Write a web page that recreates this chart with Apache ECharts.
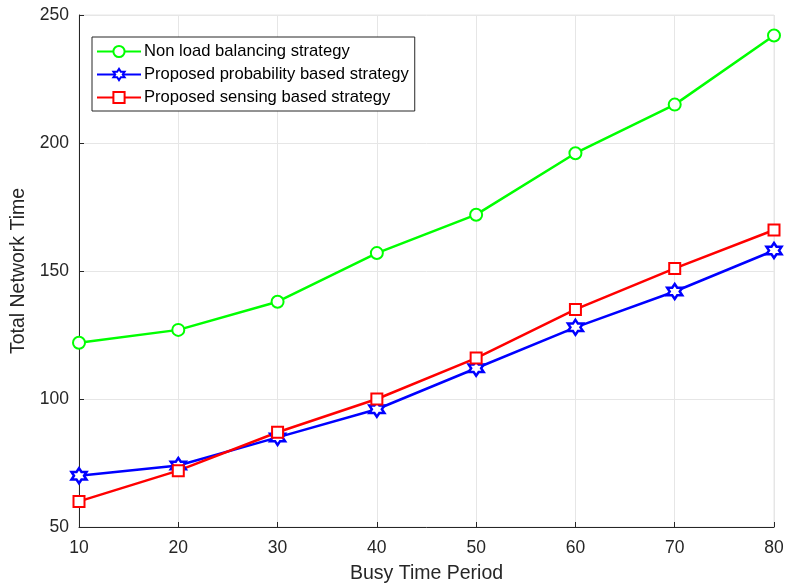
<!DOCTYPE html>
<html>
<head>
<meta charset="utf-8">
<script src="https://cdn.jsdelivr.net/npm/echarts@6/dist/echarts.min.js"></script>
<style>
  html, body { margin: 0; padding: 0; background: #fff; }
  #chart { width: 787px; height: 587px; }
</style>
</head>
<body>
<div id="chart"></div>
<script>
// data
const periods = [10, 20, 30, 40, 50, 60, 70, 80];
const nonBalancing = [122, 127, 138, 157, 172, 196, 215, 242];
const probabilityBased = [70, 74, 85, 96, 112, 128, 142, 158];
const sensingBased = [60, 72, 87, 100, 116, 135, 151, 166];

// six pointed star (matlab 'hexagram')
const hexagram = 'path://M0,-10L2.89,-5L8.66,-5L5.77,0L8.66,5L2.89,5L0,10L-2.89,5L-8.66,5L-5.77,0L-8.66,-5L-2.89,-5Z';

const chart = echarts.init(document.getElementById('chart'));

function makeSeries(name, values, color, symbol, size, border) {
    return {
        name: name,
        type: 'line',
        data: periods.map((p, i) => [p, values[i]]),
        symbol: symbol,
        symbolSize: size,
        showAllSymbol: true,
        lineStyle: { color: color, width: 2.5 },
        itemStyle: { color: '#fff', borderColor: color, borderWidth: border },
        emphasis: { disabled: true },
        z: 3
    };
}

const font = 'Liberation Sans, Arial, sans-serif';
const axisText = { color: '#262626', fontSize: 17.5, fontFamily: font };

chart.setOption({
    backgroundColor: '#ffffff',
    animation: false,
    grid: {
        left: 79, right: 13, top: 15, bottom: 60,
        outerBoundsMode: 'none',
        show: true, borderColor: '#e6e6e6', borderWidth: 1
    },
    legend: {
        orient: 'vertical',
        left: 92,
        top: 37,
        padding: [6, 6, 5, 4],
        itemGap: 6,
        itemWidth: 44,
        itemHeight: 14,
        borderColor: '#262626',
        borderWidth: 1,
        backgroundColor: '#fff',
        textStyle: { color: '#000', fontSize: 16.6, fontFamily: font, padding: [0, 0, 0, -2] },
        data: ['Non load balancing strategy', 'Proposed probability based strategy', 'Proposed sensing based strategy']
    },
    xAxis: {
        type: 'value',
        min: 10,
        max: 80,
        interval: 10,
        name: 'Busy Time Period',
        nameLocation: 'middle',
        nameGap: 37,
        nameTextStyle: { color: '#262626', fontSize: 19.5, fontFamily: font },
        axisLine: { onZero: false, lineStyle: { color: '#262626', width: 1 } },
        axisTick: { inside: true, length: 5, lineStyle: { color: '#262626' } },
        axisLabel: Object.assign({ margin: 12 }, axisText),
        splitLine: { show: true, lineStyle: { color: '#e6e6e6', width: 1 } }
    },
    yAxis: {
        type: 'value',
        min: 50,
        max: 250,
        interval: 50,
        name: 'Total Network Time',
        nameLocation: 'middle',
        nameGap: 43,
        nameTextStyle: { color: '#262626', fontSize: 19.5, fontFamily: font },
        axisLine: { show: true, onZero: false, lineStyle: { color: '#262626', width: 1 } },
        axisTick: { show: true, inside: true, length: 5, lineStyle: { color: '#262626' } },
        axisLabel: Object.assign({ margin: 10 }, axisText),
        splitLine: { show: true, lineStyle: { color: '#e6e6e6', width: 1 } }
    },
    series: [
        makeSeries('Non load balancing strategy', nonBalancing, '#00ff00', 'circle', 12, 2),
        makeSeries('Proposed probability based strategy', probabilityBased, '#0000ff', hexagram, 15, 2.5),
        makeSeries('Proposed sensing based strategy', sensingBased, '#ff0000', 'rect', 11, 2)
    ]
});
</script>
</body>
</html>
